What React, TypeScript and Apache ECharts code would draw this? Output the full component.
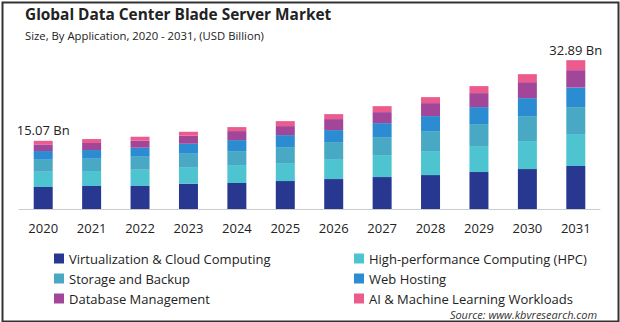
import React, { useEffect, useRef } from "react";
import * as echarts from "echarts";

const years = ["2020", "2021", "2022", "2023", "2024", "2025", "2026", "2027", "2028", "2029", "2030", "2031"];
const seriesNames = [
  "Virtualization & Cloud Computing",
  "High-performance Computing (HPC)",
  "Storage and Backup",
  "Web Hosting",
  "Database Management",
  "AI & Machine Learning Workloads",
];
const virtualization = [4.86, 5.08, 5.08, 5.59, 5.74, 6.18, 6.62, 7.06, 7.5, 8.17, 8.83, 9.5];
const hpc = [3.38, 3.31, 3.6, 3.53, 3.97, 3.97, 4.42, 4.86, 5.3, 5.74, 6.18, 7.06];
const storage = [2.65, 2.72, 2.87, 3.09, 3.09, 3.53, 3.75, 3.97, 4.42, 4.86, 5.52, 5.96];
const webHosting = [1.92, 1.92, 1.99, 2.21, 2.43, 2.65, 2.65, 3.09, 3.31, 3.75, 3.97, 4.34];
const database = [1.47, 1.55, 1.55, 1.77, 1.99, 1.99, 2.43, 2.43, 2.87, 3.09, 3.53, 3.82];
const aiMl = [0.79, 0.88, 0.88, 0.88, 0.88, 1.1, 1.1, 1.32, 1.32, 1.55, 1.77, 2.21];
const totalLabels = ["15.07 Bn", "", "", "", "", "", "", "", "", "", "", "32.89 Bn"];
const colors = ["#283891", "#4DC4CF", "#49A9C5", "#2C8CD2", "#A2469A", "#EC5B8D"];

const FONT = "'Open Sans', 'Noto Sans', sans-serif";

export default function App() {
  const ref = useRef<HTMLDivElement>(null);
  useEffect(() => {
    document.body.style.margin = "0";
    if (!ref.current) return;
    const chart = echarts.init(ref.current, null, { renderer: "svg" });
    const data = [virtualization, hpc, storage, webHosting, database, aiMl];
    const series = data.map((d, i) => ({
      name: seriesNames[i],
      type: "bar",
      stack: "total",
      data: d,
      barWidth: 19,
      itemStyle: { color: colors[i] },
      label:
        i === data.length - 1
          ? {
              show: true,
              position: "top",
              distance: 4,
              color: "#222",
              fontSize: 13,
              fontFamily: FONT,
              formatter: (p: any) => totalLabels[p.dataIndex],
            }
          : { show: false },
    }));
    const legendCommon = {
      orient: "vertical",
      icon: "rect",
      itemWidth: 10,
      itemHeight: 10,
      itemGap: 7,
      textStyle: { fontSize: 13, color: "#222", fontFamily: FONT, lineHeight: 13 },
      padding: 0,
    };
    chart.setOption({
      animation: false,
      backgroundColor: "#fff",
      title: {
        text: "Global Data Center Blade Server Market",
        subtext: "Size, By Application, 2020 - 2031, (USD Billion)",
        left: 25,
        top: 7,
        padding: 0,
        itemGap: 8,
        textStyle: { fontSize: 15.4, fontWeight: "bold", color: "#222", fontFamily: FONT },
        subtextStyle: { fontSize: 11.3, color: "#222", fontFamily: FONT },
      },
      grid: { left: 19, right: 20, top: 28, bottom: 113, containLabel: false },
      xAxis: {
        type: "category",
        data: years,
        axisLine: { lineStyle: { color: "#ccc" } },
        axisTick: { show: false },
        axisLabel: { color: "#222", fontSize: 13, margin: 12, fontFamily: FONT },
      },
      yAxis: { type: "value", min: 0, max: 40, show: false },
      legend: [
        { ...legendCommon, left: 54, top: 252, data: [seriesNames[0], seriesNames[2], seriesNames[4]] },
        { ...legendCommon, left: 354, top: 252, data: [seriesNames[1], seriesNames[3], seriesNames[5]] },
      ],
      graphic: [
        {
          type: "rect",
          left: 0,
          top: 0,
          shape: { x: 1, y: 1, width: 616, height: 319 },
          style: { fill: "none", stroke: "#333", lineWidth: 2 },
          silent: true,
        },
        {
          type: "text",
          x: 597,
          y: 314,
          style: {
            text: "Source: www.kbvresearch.com",
            fontSize: 11,
            fontStyle: "italic",
            fill: "#333",
            fontFamily: FONT,
            textAlign: "right",
            textVerticalAlign: "middle",
          },
        },
      ],
      series,
    });
    return () => chart.dispose();
  }, []);
  return <div ref={ref} style={{ width: 620, height: 322 }} />;
}
